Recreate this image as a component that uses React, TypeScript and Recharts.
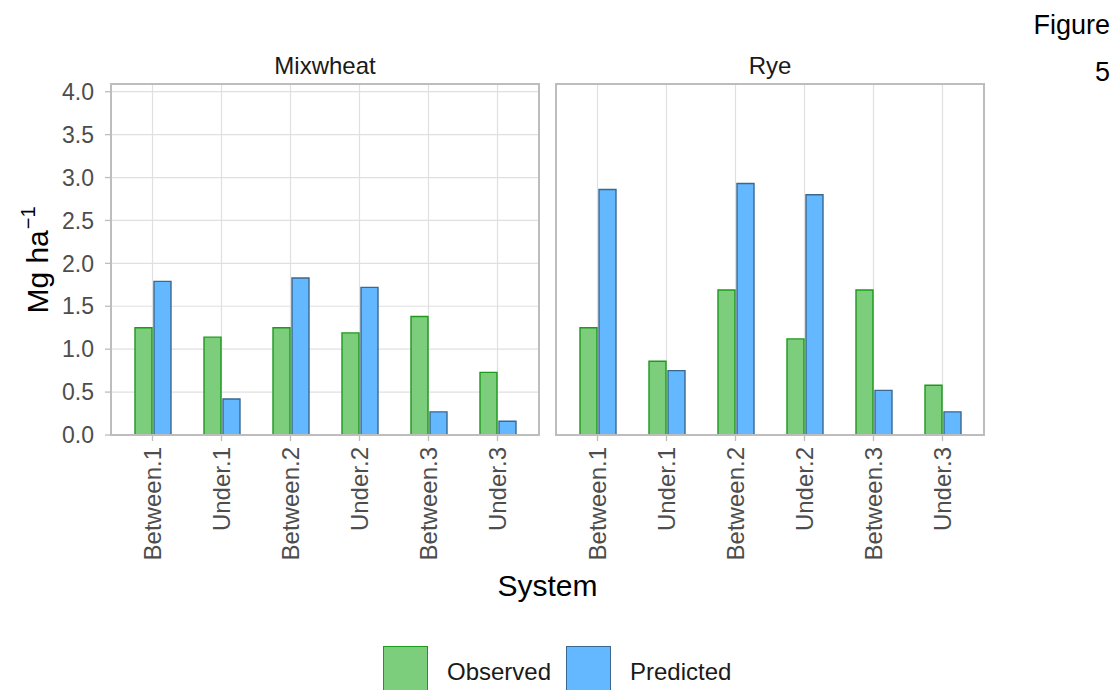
import React from "react";
import { BarChart, Bar, XAxis, YAxis, CartesianGrid } from "recharts";

// ---- data ----
const categories = ["Between.1", "Under.1", "Between.2", "Under.2", "Between.3", "Under.3"];
const mixwheatObserved = [1.25, 1.14, 1.25, 1.19, 1.38, 0.73];
const mixwheatPredicted = [1.79, 0.42, 1.83, 1.72, 0.27, 0.16];
const ryeObserved = [1.25, 0.86, 1.69, 1.12, 1.69, 0.58];
const ryePredicted = [2.86, 0.75, 2.93, 2.8, 0.52, 0.27];
const yTicks = [0, 0.5, 1, 1.5, 2, 2.5, 3, 3.5, 4];
const panelTitles = ["Mixwheat", "Rye"];
const seriesNames = ["Observed", "Predicted"];

// ---- styles ----
const FONT = "'Liberation Sans', Arial, Helvetica, sans-serif";
const GREEN_FILL = "#7ccd7c";
const GREEN_STROKE = "#1c9a1c";
const BLUE_FILL = "#63b8ff";
const BLUE_STROKE = "#3a6890";
const GRID = "#e0e0e0";
const BORDER = "#bdbdbd";
const TICK_TEXT = "#4d4d4d";

const buildData = (obs: number[], pred: number[]) =>
  categories.map((c, i) => ({ cat: c, observed: obs[i], predicted: pred[i] }));

const panels = [
  { title: panelTitles[0], data: buildData(mixwheatObserved, mixwheatPredicted) },
  { title: panelTitles[1], data: buildData(ryeObserved, ryePredicted) },
];

const XTick = (props: any) => {
  const { x, y, payload } = props;
  return (
    <text
      transform={`translate(${x},${y}) rotate(-90)`}
      textAnchor="end"
      dy="0.36em"
      fontSize={24}
      fill={TICK_TEXT}
      fontFamily={FONT}
    >
      {payload.value}
    </text>
  );
};

const CHART_H = 610;
const PLOT_TOP = 84;
const PLOT_BOTTOM = 435;

function Panel({
  data,
  showY,
  width,
  margin,
}: {
  data: any[];
  showY: boolean;
  width: number;
  margin: { top: number; right: number; left: number; bottom: number };
}) {
  return (
    <BarChart width={width} height={CHART_H} data={data} margin={margin} barGap={2} barSize={17}>
      <CartesianGrid stroke={GRID} strokeWidth={1.2} />
      <XAxis
        dataKey="cat"
        type="category"
        interval={0}
        padding={{ left: 7, right: 7 }}
        axisLine={false}
        tickLine={{ stroke: BORDER, strokeWidth: 1.3 }}
        tickSize={6}
        tickMargin={6}
        height={CHART_H - PLOT_BOTTOM}
        tick={XTick}
      />
      <YAxis
        type="number"
        domain={[0, 4.09]}
        ticks={yTicks}
        allowDataOverflow
        interval={0}
        width={showY ? 111 : 0}
        axisLine={false}
        tickLine={showY ? { stroke: BORDER, strokeWidth: 1.3 } : false}
        tickSize={6}
        tickMargin={11}
        tick={showY ? { fontSize: 23, fill: TICK_TEXT, fontFamily: FONT } : false}
        tickFormatter={(v: number) => v.toFixed(1)}
      />
      <Bar
        dataKey="observed"
        name={seriesNames[0]}
        fill={GREEN_FILL}
        stroke={GREEN_STROKE}
        strokeWidth={1.4}
        isAnimationActive={false}
      />
      <Bar
        dataKey="predicted"
        name={seriesNames[1]}
        fill={BLUE_FILL}
        stroke={BLUE_STROKE}
        strokeWidth={1.4}
        isAnimationActive={false}
      />
    </BarChart>
  );
}

export default function App() {
  const panelBoxes = [
    { left: 0, width: 545, margin: { top: PLOT_TOP, right: 6, left: 0, bottom: 0 }, showY: true, plotL: 111, plotR: 539 },
    { left: 545, width: 445, margin: { top: PLOT_TOP, right: 6, left: 11, bottom: 0 }, showY: false, plotL: 556, plotR: 984 },
  ];
  return (
    <div
      style={{
        position: "absolute",
        left: 0,
        top: 0,
        width: 1120,
        height: 690,
        background: "#fff",
        overflow: "hidden",
        fontFamily: FONT,
      }}
    >
      {panels.map((p, i) => {
        const b = panelBoxes[i];
        return (
          <React.Fragment key={p.title}>
            <div style={{ position: "absolute", left: b.left, top: 0 }}>
              <Panel data={p.data} showY={b.showY} width={b.width} margin={b.margin} />
            </div>
            <div
              style={{
                position: "absolute",
                left: b.plotL - 1,
                top: PLOT_TOP - 1,
                width: b.plotR - b.plotL + 2,
                height: PLOT_BOTTOM - PLOT_TOP + 2,
                border: `2px solid ${BORDER}`,
                boxSizing: "border-box",
                pointerEvents: "none",
              }}
            />
            <div
              style={{
                position: "absolute",
                left: b.plotL,
                width: b.plotR - b.plotL,
                top: 50,
                height: 32,
                lineHeight: "32px",
                textAlign: "center",
                fontSize: 24,
                color: "#1a1a1a",
              }}
            >
              {p.title}
            </div>
          </React.Fragment>
        );
      })}

      {/* y axis title */}
      <div
        style={{
          position: "absolute",
          left: 38 - 150,
          top: 260 - 20,
          width: 300,
          height: 40,
          lineHeight: "40px",
          textAlign: "center",
          fontSize: 30,
          color: "#000",
          transform: "rotate(-90deg)",
          whiteSpace: "nowrap",
        }}
      >
        Mg ha
        <span style={{ fontSize: 20, position: "relative", top: -13, marginLeft: 1 }}>−1</span>
      </div>

      {/* x axis title */}
      <div
        style={{
          position: "absolute",
          left: 111,
          width: 984 - 111,
          top: 566,
          height: 40,
          lineHeight: "40px",
          textAlign: "center",
          fontSize: 30,
          color: "#000",
        }}
      >
        System
      </div>

      {/* legend */}
      {seriesNames.map((name, i) => {
        const boxLeft = i === 0 ? 383 : 566;
        return (
          <React.Fragment key={name}>
            <div
              style={{
                position: "absolute",
                left: boxLeft,
                top: 646,
                width: 45,
                height: 50,
                background: i === 0 ? GREEN_FILL : BLUE_FILL,
                border: `1.5px solid ${i === 0 ? GREEN_STROKE : BLUE_STROKE}`,
                boxSizing: "border-box",
              }}
            />
            <div
              style={{
                position: "absolute",
                left: boxLeft + 64,
                top: 656,
                height: 32,
                lineHeight: "32px",
                fontSize: 24,
                color: "#1a1a1a",
                whiteSpace: "nowrap",
              }}
            >
              {name}
            </div>
          </React.Fragment>
        );
      })}

      {/* Figure label */}
      <div
        style={{
          position: "absolute",
          right: 10,
          top: 9,
          fontSize: 27,
          lineHeight: "32px",
          color: "#000",
          textAlign: "right",
        }}
      >
        Figure
      </div>
      <div
        style={{
          position: "absolute",
          right: 10,
          top: 56,
          fontSize: 27,
          lineHeight: "32px",
          color: "#000",
          textAlign: "right",
        }}
      >
        5
      </div>
    </div>
  );
}
